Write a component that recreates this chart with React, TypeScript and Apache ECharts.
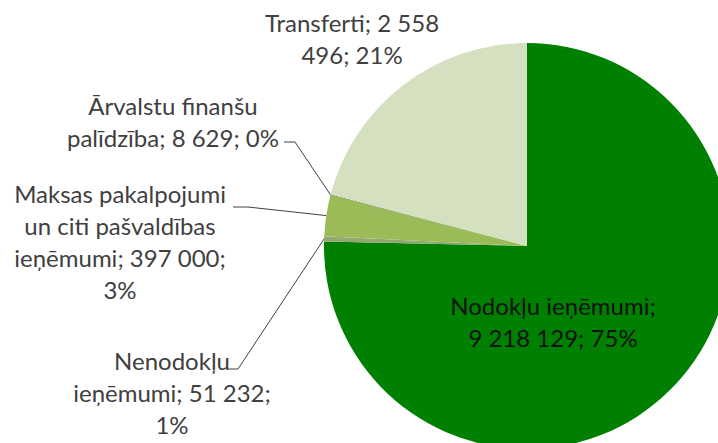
import React, { useEffect, useRef } from "react";
import * as echarts from "echarts";

const categories = [
  "Nodokļu ieņēmumi",
  "Nenodokļu ieņēmumi",
  "Maksas pakalpojumi un citi pašvaldības ieņēmumi",
  "Ārvalstu finanšu palīdzība",
  "Transferti",
];
const values = [9218129, 51232, 397000, 8629, 2558496];
const percentLabels = ["75%", "1%", "3%", "0%", "21%"];
const colors = ["#008000", "#93A872", "#9BBB59", "#5E7F3A", "#D4E0C0"];

const FONT_SIZE = 24;
const FONT_FAMILY = "Lato";

// layout only
const labelLayouts: any[] = [
  { x: 553, y: 321, width: 222 },
  { x: 172, y: 392, width: 205, elbow: [238, 369], end: [227, 369] },
  { x: 120, y: 241, width: 224, elbow: [248, 207], end: [233, 207] },
  { x: 173, y: 121, width: 240, elbow: [295, 142], end: [284, 142] },
  { x: 352, y: 38, width: 175 },
];

const fmt = (v: number) => String(v).replace(/\B(?=(\d{3})+(?!\d))/g, " ");

let ctx: CanvasRenderingContext2D | null = null;
const measure = (s: string) => {
  if (!ctx) {
    ctx = document.createElement("canvas").getContext("2d");
  }
  if (!ctx) return s.length * FONT_SIZE * 0.5;
  ctx.font = `${FONT_SIZE}px ${FONT_FAMILY}`;
  return ctx.measureText(s).width;
};

const wrap = (text: string, maxW: number) => {
  const words = text.split(" ");
  const lines: string[] = [];
  let cur = "";
  for (const w of words) {
    const t = cur ? cur + " " + w : w;
    if (cur && measure(t) > maxW) {
      lines.push(cur);
      cur = w;
    } else {
      cur = t;
    }
  }
  if (cur) lines.push(cur);
  return lines.join("\n");
};

export default function App() {
  const ref = useRef<HTMLDivElement>(null);
  useEffect(() => {
    document.body.style.margin = "0";
    const chart = echarts.init(ref.current!, undefined, { renderer: "svg" });
    const data = categories.map((name, i) => ({
      name,
      value: values[i],
      itemStyle: { color: colors[i] },
      label: {
        color: i === 0 ? "#111111" : "#404040",
      },
      labelLine: { show: i !== 0 && !!labelLayouts[i].elbow },
    }));
    chart.setOption({
      animation: false,
      series: [
        {
          type: "pie",
          center: [527, 246],
          radius: 203,
          startAngle: 90,
          clockwise: true,
          silent: true,
          avoidLabelOverlap: false,
          data,
          label: {
            show: true,
            position: "outside",
            fontFamily: FONT_FAMILY,
            fontSize: FONT_SIZE,
            lineHeight: 32,
            align: "center",
            formatter: (p: any) =>
              wrap(
                `${p.name}; ${fmt(p.value)}; ${percentLabels[p.dataIndex]}`,
                labelLayouts[p.dataIndex].width
              ),
          },
          labelLine: {
            show: true,
            lineStyle: { color: "#404040", width: 1 },
          },
          labelLayout: (params: any) => {
            const l = labelLayouts[params.dataIndex];
            const res: any = {
              x: l.x,
              y: l.y,
              align: "center",
              verticalAlign: "middle",
            };
            if (l.elbow && params.labelLinePoints && params.labelLinePoints[0]) {
              res.labelLinePoints = [params.labelLinePoints[0], l.elbow, l.end];
            }
            return res;
          },
        },
      ],
    });
    return () => chart.dispose();
  }, []);
  return <div ref={ref} style={{ width: 718, height: 443 }} />;
}
